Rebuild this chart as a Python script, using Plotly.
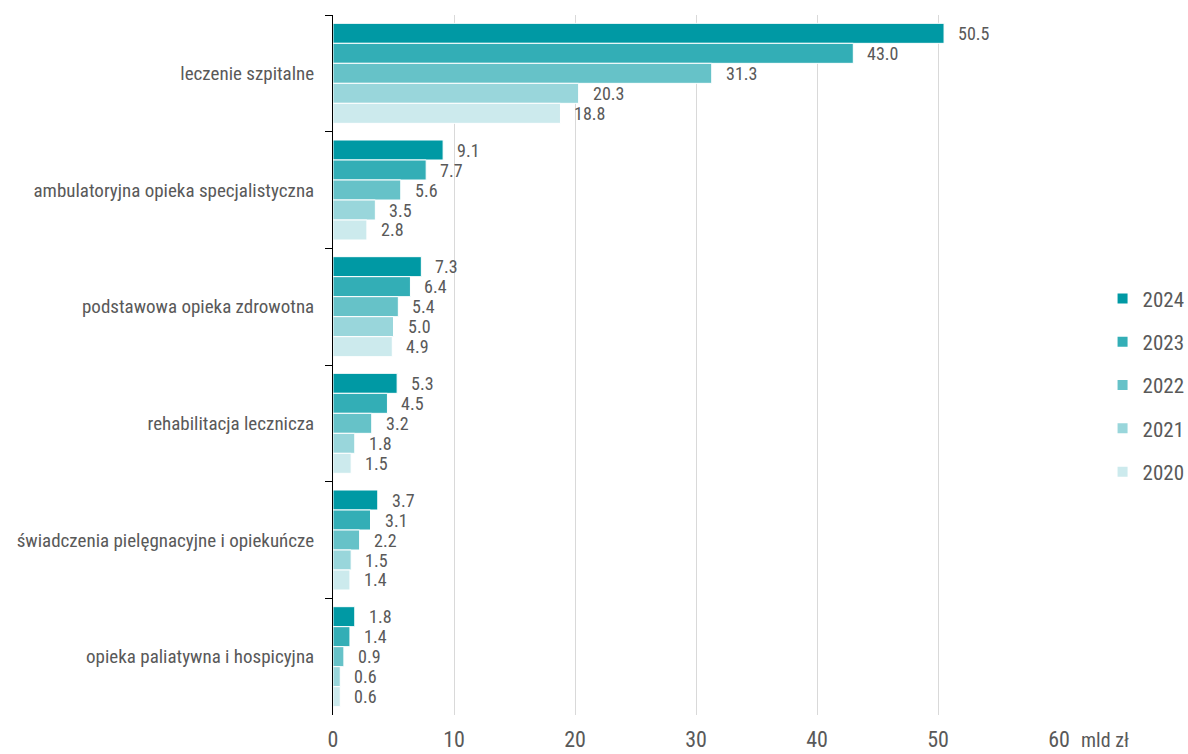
import plotly.graph_objects as go

categories = [
    "leczenie szpitalne",
    "ambulatoryjna opieka specjalistyczna",
    "podstawowa opieka zdrowotna",
    "rehabilitacja lecznicza",
    "świadczenia pielęgnacyjne i opiekuńcze",
    "opieka paliatywna i hospicyjna",
]
years = ["2024", "2023", "2022", "2021", "2020"]
values = {
    "2024": [50.5, 9.1, 7.3, 5.3, 3.7, 1.8],
    "2023": [43.0, 7.7, 6.4, 4.5, 3.1, 1.4],
    "2022": [31.3, 5.6, 5.4, 3.2, 2.2, 0.9],
    "2021": [20.3, 3.5, 5.0, 1.8, 1.5, 0.6],
    "2020": [18.8, 2.8, 4.9, 1.5, 1.4, 0.6],
}
colors = {
    "2024": "#0099A4",
    "2023": "#33AEB6",
    "2022": "#66C2C8",
    "2021": "#99D6DB",
    "2020": "#CCEAED",
}
x_ticks = [0, 10, 20, 30, 40, 50, 60]
unit_label = "mld zł"

FONT = ("Roboto Condensed, Open Sans Condensed, Liberation Sans Narrow, "
        "DejaVu Sans Condensed, sans-serif")
GREY = "#595959"
BARGAP = 0.143

fig = go.Figure()
for yr in years:
    fig.add_trace(go.Bar(
        name=yr,
        legendgroup=yr,
        y=categories,
        x=values[yr],
        orientation="h",
        marker=dict(color=colors[yr], line=dict(color="white", width=1)),
    ))

# value labels to the right of each bar
n = len(years)
group_w = 1 - BARGAP
bar_w = group_w / n
annotations = []
for i, yr in enumerate(years):
    off = -group_w / 2 + (i + 0.5) * bar_w
    for j, v in enumerate(values[yr]):
        annotations.append(dict(
            x=v, y=j + off, xref="x", yref="y",
            text=f"{v:.1f}", showarrow=False,
            xanchor="left", yanchor="middle", xshift=12,
            font=dict(family=FONT, size=18, color=GREY),
        ))
annotations.append(dict(
    x=60, y=0, xref="x", yref="paper", text=unit_label, showarrow=False,
    xanchor="left", yanchor="middle", xshift=20, yshift=-25,
    font=dict(family=FONT, size=20, color=GREY),
))

fig.update_layout(
    width=1188, height=754,
    margin=dict(l=333, r=129, t=15, b=39, autoexpand=False),
    paper_bgcolor="white", plot_bgcolor="white",
    barmode="group", bargap=BARGAP, bargroupgap=0,
    font=dict(family=FONT, color=GREY),
    showlegend=True,
    legend=dict(
        x=1.06, y=0.471, xanchor="left", yanchor="middle",
        font=dict(family=FONT, size=21, color=GREY),
        tracegroupgap=13, itemsizing="constant", itemwidth=30,
    ),
    annotations=annotations,
    xaxis=dict(
        range=[0, 60], tickvals=x_ticks, showgrid=True, automargin=False,
        gridcolor="#D9D9D9", gridwidth=1, zeroline=False, showline=False,
        ticks="", ticklabelstandoff=9,
        tickfont=dict(family=FONT, size=22, color=GREY),
    ),
    yaxis=dict(
        autorange="reversed", showline=True, linecolor="black", linewidth=1,
        automargin=False,
        ticks="outside", tickson="boundaries", ticklen=7, tickcolor="black",
        ticklabelstandoff=14,
        tickfont=dict(family=FONT, size=19, color=GREY),
    ),
)

fig.write_html("out.html")
